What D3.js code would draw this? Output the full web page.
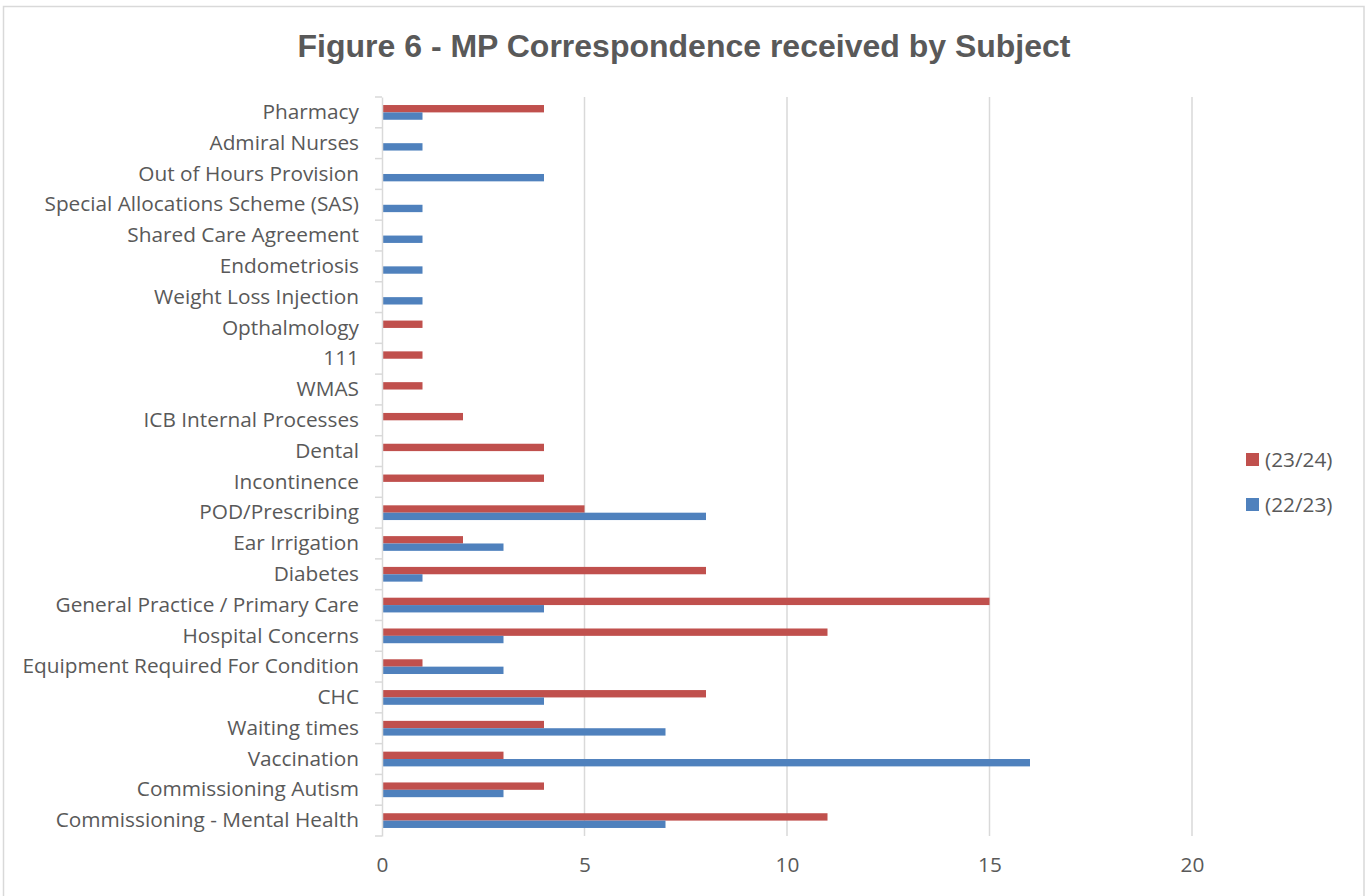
<!DOCTYPE html>
<html>
<head>
<meta charset="utf-8">
<script src="https://cdnjs.cloudflare.com/ajax/libs/d3/7.8.5/d3.min.js"></script>
<style>
  body { margin: 0; background: #fff; }
  svg { display: block; }
</style>
</head>
<body>
<svg width="1370" height="896"></svg>
<script>
// categories, top to bottom
var categories = [
    "Pharmacy", "Admiral Nurses", "Out of Hours Provision", "Special Allocations Scheme (SAS)",
    "Shared Care Agreement", "Endometriosis", "Weight Loss Injection", "Opthalmology",
    "111", "WMAS", "ICB Internal Processes", "Dental", "Incontinence", "POD/Prescribing",
    "Ear Irrigation", "Diabetes", "General Practice / Primary Care", "Hospital Concerns",
    "Equipment Required For Condition", "CHC", "Waiting times", "Vaccination",
    "Commissioning Autism", "Commissioning - Mental Health"
];
var series = ["(23/24)", "(22/23)"];
var values2324 = [4, 0, 0, 0, 0, 0, 0, 1, 1, 1, 2, 4, 4, 5, 2, 8, 15, 11, 1, 8, 4, 3, 4, 11];
var values2223 = [1, 1, 4, 1, 1, 1, 1, 0, 0, 0, 0, 0, 0, 8, 3, 1, 4, 3, 3, 4, 7, 16, 3, 7];
var xTicks = [0, 5, 10, 15, 20];
var colors = ["#C0504D", "#4F81BD"];

var labelFont = "Open Sans, sans-serif";
var labelSize = 20.8;
var svg = d3.select("svg");

// chart border
svg.append("rect")
    .attr("x", 3.5).attr("y", 6.5)
    .attr("width", 1360.5).attr("height", 900)
    .attr("fill", "#fff")
    .attr("stroke", "#d9d9d9")
    .attr("stroke-width", 1.5);

// title
svg.append("text")
    .attr("x", 684).attr("y", 57)
    .attr("text-anchor", "middle")
    .attr("font-family", "Liberation Sans, Arial, sans-serif")
    .attr("font-weight", "bold")
    .attr("font-size", 32)
    .attr("fill", "#595959")
    .text("Figure 6 - MP Correspondence received by Subject");

var plot = { left: 382, top: 97, right: 1192, bottom: 836 };

var x = d3.scaleLinear().domain([0, 20]).range([plot.left, plot.right]);
var y = d3.scaleBand().domain(categories).range([plot.top, plot.bottom]);
var y1 = d3.scaleBand().domain(series).range([0, y.bandwidth()]).paddingOuter(1.09);

// gridlines
svg.append("g")
    .selectAll("line")
    .data(xTicks.slice(1))
    .join("line")
    .attr("x1", function (d) { return x(d); })
    .attr("x2", function (d) { return x(d); })
    .attr("y1", plot.top)
    .attr("y2", plot.bottom)
    .attr("stroke", "#d9d9d9")
    .attr("stroke-width", 1.5);

// bars
var rows = categories.map(function (c, i) {
    return { cat: c, vals: [values2324[i], values2223[i]] };
});

var groups = svg.append("g")
    .selectAll("g")
    .data(rows)
    .join("g")
    .attr("transform", function (d) { return "translate(0," + y(d.cat) + ")"; });

groups.selectAll("rect")
    .data(function (d) {
        return d.vals.map(function (v, j) { return { s: series[j], v: v, j: j }; });
    })
    .join("rect")
    .attr("x", x(0))
    .attr("y", function (d) { return y1(d.s); })
    .attr("width", function (d) { return x(d.v) - x(0); })
    .attr("height", y1.bandwidth())
    .attr("fill", function (d) { return colors[d.j]; });

// y axis
var yAxis = svg.append("g")
    .attr("transform", "translate(" + plot.left + ",0)")
    .call(d3.axisLeft(y).tickSize(0).tickPadding(23));

yAxis.select(".domain").attr("stroke", "#d9d9d9").attr("stroke-width", 1.5);
yAxis.selectAll("text")
    .attr("font-family", labelFont)
    .attr("font-size", labelSize)
    .attr("fill", "#595959");

// category separators (tick marks)
svg.append("g")
    .selectAll("line")
    .data(categories.concat(["end"]))
    .join("line")
    .attr("x1", plot.left - 7)
    .attr("x2", plot.left)
    .attr("y1", function (d, i) { return plot.top + i * y.step(); })
    .attr("y2", function (d, i) { return plot.top + i * y.step(); })
    .attr("stroke", "#d9d9d9")
    .attr("stroke-width", 1.5);

// x axis labels
var xAxis = svg.append("g")
    .attr("transform", "translate(0," + plot.bottom + ")")
    .call(d3.axisBottom(x).tickValues(xTicks).tickSize(0).tickPadding(21));

xAxis.select(".domain").remove();
xAxis.selectAll("text")
    .attr("font-family", labelFont)
    .attr("font-size", labelSize)
    .attr("fill", "#595959");

// legend
var legend = svg.append("g")
    .selectAll("g")
    .data(series)
    .join("g")
    .attr("transform", function (d, i) { return "translate(1246," + (453 + i * 45) + ")"; });

legend.append("rect")
    .attr("width", 13).attr("height", 13)
    .attr("fill", function (d, i) { return colors[i]; });

legend.append("text")
    .attr("x", 19).attr("y", 7)
    .attr("dy", "0.35em")
    .attr("font-family", labelFont)
    .attr("font-size", labelSize)
    .attr("fill", "#595959")
    .text(function (d) { return d; });
</script>
</body>
</html>
